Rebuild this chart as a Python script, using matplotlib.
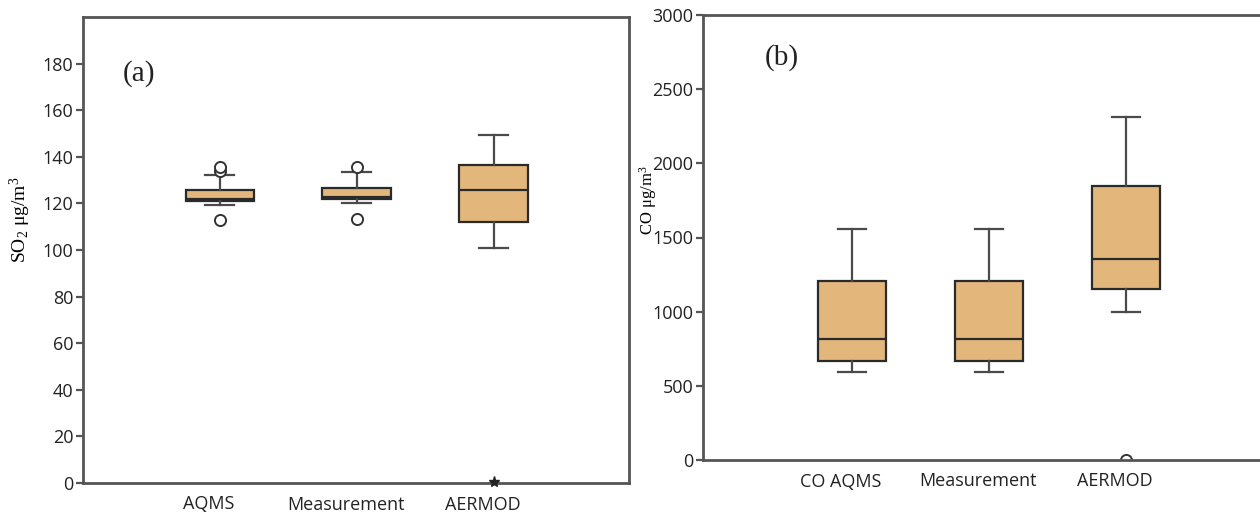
import matplotlib
matplotlib.use("Agg")
import matplotlib.pyplot as plt
import matplotlib.transforms as mtransforms

plt.rcParams["mathtext.fontset"] = "custom"
plt.rcParams["mathtext.rm"] = "Liberation Serif"
plt.rcParams["mathtext.it"] = "Liberation Serif:italic"
plt.rcParams["mathtext.bf"] = "Liberation Serif:bold"

# ---------------- data ----------------
so2_labels = ["AQMS", "Measurement", "AERMOD"]
so2_q1 = [121.0, 121.7, 112.1]
so2_med = [122.0, 122.7, 125.6]
so2_q3 = [125.9, 126.7, 136.4]
so2_lo = [119.1, 120.1, 100.9]
so2_hi = [132.0, 133.4, 149.4]
so2_out = [[112.7, 133.9, 135.6], [113.1, 135.6], []]
so2_extreme = [[], [], [0.5]]
so2_ticks = [0, 20, 40, 60, 80, 100, 120, 140, 160, 180]

co_labels = ["CO AQMS", "Measurement", "AERMOD"]
co_q1 = [670, 670, 1153]
co_med = [813, 813, 1357]
co_q3 = [1207, 1207, 1849]
co_lo = [591, 591, 996]
co_hi = [1557, 1557, 2310]
co_out = [[], [], [0]]
co_ticks = [0, 500, 1000, 1500, 2000, 2500, 3000]

# ---------------- style ----------------
FILL = "#E3B77C"
EDGE = "#2a2a2a"
WHISK = "#4a4a4a"
SPINE = "#555555"
TICKFONT = "Open Sans"
SERIF = "Liberation Serif"

fig = plt.figure(figsize=(12.6, 5.16), dpi=100)
ax1 = fig.add_axes([83/1260, 33/516, 546/1260, 466/516])
ax2 = fig.add_axes([703/1260, 56/516, 560/1260, 445/516])


def draw(ax, labels, q1, med, q3, lo, hi, out):
    stats = []
    for i in range(len(labels)):
        stats.append(dict(label=labels[i], q1=q1[i], med=med[i], q3=q3[i],
                          whislo=lo[i], whishi=hi[i], fliers=out[i]))
    pos = list(range(1, len(labels) + 1))
    ax.bxp(stats, positions=pos, widths=0.5, patch_artist=True,
           boxprops=dict(facecolor=FILL, edgecolor=EDGE, linewidth=1.6),
           medianprops=dict(color=EDGE, linewidth=1.6),
           whiskerprops=dict(color=WHISK, linewidth=1.6),
           capprops=dict(color=WHISK, linewidth=1.6),
           capwidths=0.21,
           flierprops=dict(marker="o", markerfacecolor="white",
                           markeredgecolor="#333333", markersize=8,
                           markeredgewidth=1.4, linestyle="none"))
    return pos


pos1 = draw(ax1, so2_labels, so2_q1, so2_med, so2_q3, so2_lo, so2_hi, so2_out)
for p, ext in zip(pos1, so2_extreme):
    if ext:
        ax1.plot([p] * len(ext), ext, linestyle="none", marker="*",
                 color="#222222", markersize=8, clip_on=False, zorder=5)
pos2 = draw(ax2, co_labels, co_q1, co_med, co_q3, co_lo, co_hi, co_out)

ax1.set_xlim(0, 3.99)
ax1.set_ylim(0, 200)
ax1.set_yticks(so2_ticks)
ax2.set_xlim(-0.088, 4.0)
ax2.set_ylim(0, 3000)
ax2.set_yticks(co_ticks)

for ax in (ax1, ax2):
    for s in ax.spines.values():
        s.set_color(SPINE)
        s.set_linewidth(2.0)
    ax.tick_params(axis="y", length=5, width=1.6, color=SPINE, pad=2,
                   labelsize=13, labelcolor="#222222")
    ax.tick_params(axis="x", length=0, pad=9, labelsize=13, labelcolor="#222222")
    for lab in ax.get_yticklabels() + ax.get_xticklabels():
        lab.set_fontfamily(TICKFONT)
    off = mtransforms.ScaledTranslation(-11 / 100, 0, fig.dpi_scale_trans)
    for lab in ax.get_xticklabels():
        lab.set_transform(lab.get_transform() + off)

ax1.set_ylabel("SO$_2$ μg/m$^3$", fontsize=14, family=SERIF)
ax1.yaxis.set_label_coords(-0.091, 0.564)
ax2.set_ylabel("CO μg/m$^3$", fontsize=12, family=SERIF)
ax2.yaxis.set_label_coords(-0.078, 0.584)

ax1.text(0.073, 0.878, "(a)", transform=ax1.transAxes, fontsize=21,
         family=SERIF, color="#222222", va="center")
ax2.text(0.110, 0.905, "(b)", transform=ax2.transAxes, fontsize=21,
         family=SERIF, color="#222222", va="center")

fig.savefig("out.png", dpi=100)
